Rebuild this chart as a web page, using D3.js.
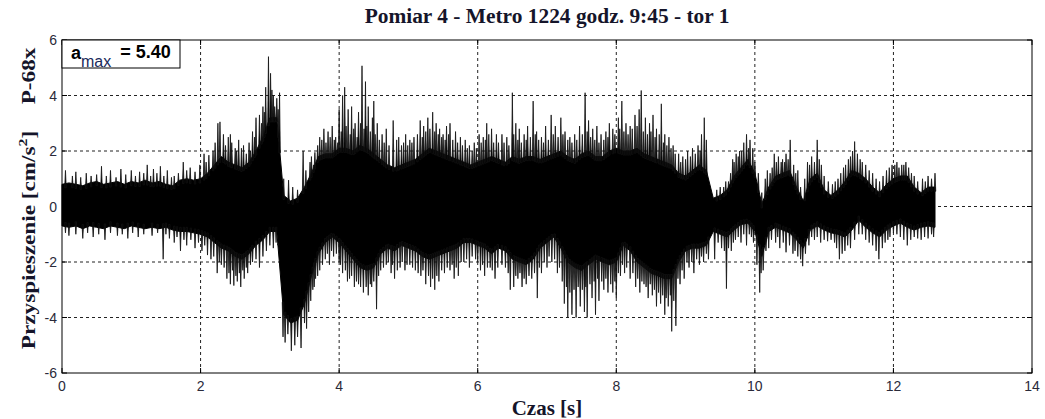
<!DOCTYPE html>
<html lang="pl">
<head>
    <meta charset="UTF-8">
    <title>Pomiar 4 - Metro 1224</title>
    <script src="https://cdn.jsdelivr.net/npm/d3@7"></script>
    <style>
        body { margin: 0; background: #fff; }
        .grid line { stroke: #222; stroke-dasharray: 3,3; stroke-width: 1; }
        .tick-label { font-family: 'Liberation Sans Narrow', 'Liberation Sans', Arial, sans-serif; font-size: 14px; fill: #2a2a3a; }
        .serif-bold { font-family: 'Liberation Serif', 'Times New Roman', serif; font-weight: bold; fill: #15152a; }
    </style>
</head>
<body>
<script>
    // canvas size
    const width = 1045;
    const height = 419;
    const margin = { top: 40, right: 13, bottom: 46, left: 62 };

    const title = 'Pomiar 4 - Metro 1224 godz. 9:45 - tor 1';
    const xTicks = [0, 2, 4, 6, 8, 10, 12, 14];
    const yTicks = [-6, -4, -2, 0, 2, 4, 6];
    const aMax = '5.40';

    // solid band of the record, read every 0.1 s (t = index * 0.1)
    const step = 0.1;
    const coreHi = [
        0.8, 0.85, 0.8, 0.75, 0.85, 0.9, 0.8, 0.85, 0.9, 0.8,
        0.9, 0.85, 0.95, 0.85, 0.9, 0.8, 0.75, 0.95, 1.0, 0.95,
        1.0, 1.2, 1.5, 1.8, 1.6, 1.5, 1.4, 1.6, 2.0, 2.5,
        3.2, 3.2, 0.4, 0.2, 0.3, 0.7, 1.2, 1.8, 1.9, 1.9,
        2.1, 2.1, 2.0, 2.2, 2.1, 1.9, 1.7, 1.5, 1.4, 1.5,
        1.6, 1.7, 1.9, 2.1, 2.0, 1.9, 1.8, 1.7, 1.6, 1.5,
        1.6, 1.7, 1.8, 1.7, 1.6, 1.8, 1.7, 1.8, 1.8, 1.7,
        1.8, 1.9, 2.0, 1.8, 1.7, 1.9, 2.0, 1.8, 1.8, 2.0,
        2.1, 2.0, 2.0, 2.1, 1.9, 1.8, 1.7, 1.6, 1.5, 1.2,
        1.1, 1.3, 1.5, 1.3, 0.3, 0.4, 0.6, 1.1, 1.4, 1.7,
        1.2, 0.1, 0.7, 1.1, 1.2, 1.3, 0.7, 0.2, 1.0, 1.2,
        0.6, 0.4, 0.6, 0.9, 1.3, 1.2, 1.0, 0.7, 0.5, 0.8,
        1.0, 1.1, 1.1, 0.7, 0.5, 0.7, 0.7
    ];
    const coreLo = [
        -0.7, -0.75, -0.7, -0.8, -0.7, -0.75, -0.8, -0.7, -0.75, -0.8,
        -0.7, -0.75, -0.8, -0.75, -0.8, -0.75, -0.85, -0.9, -0.9, -0.95,
        -1.0, -1.1, -1.3, -1.5, -1.6, -1.8, -1.9, -1.7, -1.4, -1.2,
        -0.9, -0.9, -3.9, -4.2, -4.1, -3.5, -2.5, -1.7, -1.3, -1.1,
        -1.3, -1.6, -1.9, -2.2, -2.3, -2.2, -1.7, -1.5, -1.6, -1.4,
        -1.5, -1.6, -1.8, -1.9, -1.8, -1.7, -1.6, -1.5, -1.3, -1.3,
        -1.4, -1.5, -1.7, -1.5, -1.6, -1.9, -2.0, -2.1, -1.9, -1.5,
        -1.3, -1.1, -1.5, -2.0, -2.2, -2.3, -2.1, -1.9, -2.0, -2.1,
        -2.0, -1.4, -1.6, -2.0, -2.2, -2.4, -2.5, -2.6, -2.6, -2.0,
        -1.6, -1.5, -1.5, -1.4, -0.9, -1.0, -1.1, -0.85, -0.65, -0.6,
        -0.9, -1.8, -0.9, -0.75, -0.85, -0.95, -1.2, -1.5, -0.85, -0.7,
        -0.85, -0.95, -1.0, -1.1, -0.85, -0.5, -0.75, -0.95, -1.1, -0.85,
        -0.7, -0.6, -0.75, -0.85, -0.75, -0.7, -0.75
    ];

    // peaks standing out of the band: [time s, value cm/s2]
    const spikesUp = [
        [0.05, 1.3], [0.15, 1.1], [0.2, 1.25], [0.27, 1.05], [0.35, 1.2], [0.42, 1.1], [0.5, 1.15],
        [0.57, 1.45], [0.64, 1.1], [0.7, 1.3], [0.78, 1.05], [0.85, 1.35], [0.92, 1.15], [1.0, 1.3],
        [1.06, 1.1], [1.12, 1.25], [1.18, 1.2], [1.23, 1.5], [1.28, 1.1], [1.32, 1.35], [1.37, 1.2],
        [1.42, 1.45], [1.47, 1.1], [1.52, 1.3], [1.58, 1.05], [1.62, 1.1], [1.68, 1.2], [1.75, 1.6],
        [1.8, 1.3], [1.85, 1.4], [1.92, 1.25], [1.99, 1.5],
        [2.05, 1.9], [2.08, 1.6], [2.12, 1.85], [2.18, 2.0], [2.21, 2.3], [2.25, 3.0], [2.28, 3.05],
        [2.33, 2.6], [2.36, 2.2], [2.4, 2.5], [2.43, 2.6], [2.45, 2.3], [2.5, 2.1], [2.52, 2.0],
        [2.55, 2.4], [2.59, 2.1], [2.62, 2.2], [2.66, 1.9], [2.7, 2.3], [2.72, 2.0], [2.75, 2.7],
        [2.78, 2.5], [2.8, 3.2], [2.85, 3.3], [2.88, 3.0], [2.9, 3.6], [2.92, 3.4], [2.94, 4.3],
        [2.98, 5.4], [3.01, 4.8], [3.03, 4.2], [3.05, 4.0], [3.07, 3.6], [3.1, 3.9], [3.12, 3.5],
        [3.14, 4.1],
        [3.2, 1.0], [3.27, 0.95], [3.33, 0.7], [3.4, 0.6], [3.48, 2.0], [3.52, 1.3], [3.58, 1.6],
        [3.6, 1.8], [3.63, 1.5], [3.65, 1.95], [3.69, 2.2], [3.72, 2.5], [3.75, 2.4], [3.78, 2.8],
        [3.81, 2.3], [3.84, 2.7], [3.87, 2.5], [3.9, 2.9], [3.93, 2.4], [3.95, 2.5], [3.98, 2.3],
        [4.0, 3.5], [4.03, 2.7], [4.05, 4.0], [4.08, 4.3], [4.1, 2.9], [4.13, 3.5], [4.16, 2.6],
        [4.18, 3.6], [4.21, 2.8], [4.23, 3.0], [4.26, 2.5], [4.28, 3.4], [4.31, 3.0], [4.33, 5.07],
        [4.36, 2.8], [4.38, 4.5], [4.4, 2.9], [4.42, 3.6], [4.45, 2.7], [4.48, 3.2], [4.5, 3.8],
        [4.52, 2.6], [4.55, 3.0], [4.58, 2.4], [4.62, 2.6], [4.65, 2.3], [4.68, 2.8], [4.72, 2.2],
        [4.78, 3.1], [4.83, 2.4], [4.86, 2.5], [4.9, 2.2], [4.93, 2.3], [4.96, 2.6], [4.99, 2.2],
        [5.02, 2.4], [5.05, 2.3], [5.08, 2.5], [5.13, 2.6], [5.17, 3.1], [5.2, 2.5], [5.22, 2.9],
        [5.25, 2.7], [5.28, 3.2], [5.31, 2.8], [5.35, 3.4], [5.38, 2.7], [5.4, 3.0], [5.43, 2.6],
        [5.45, 2.8], [5.48, 2.5], [5.5, 2.6], [5.53, 2.4], [5.55, 2.9], [5.58, 2.6], [5.6, 3.0],
        [5.64, 2.4], [5.68, 2.7], [5.71, 2.3], [5.75, 2.5], [5.78, 2.2], [5.82, 2.4], [5.85, 2.1],
        [5.88, 2.2], [5.92, 2.0], [5.95, 2.3], [5.98, 2.1], [6.02, 2.6], [6.05, 2.3], [6.08, 2.5],
        [6.11, 2.4], [6.13, 3.0], [6.16, 2.6], [6.2, 2.8], [6.23, 2.3], [6.27, 2.6], [6.3, 2.3],
        [6.35, 2.6], [6.38, 2.3], [6.42, 2.5], [6.45, 2.2], [6.5, 4.1], [6.52, 2.6], [6.55, 3.0],
        [6.58, 2.4], [6.6, 2.8], [6.63, 2.3], [6.67, 2.6], [6.7, 2.4], [6.72, 2.9], [6.76, 2.5],
        [6.8, 3.8], [6.83, 2.6], [6.85, 2.7], [6.88, 2.4], [6.92, 2.5], [6.95, 2.3], [6.98, 2.9],
        [7.02, 2.4], [7.06, 3.3], [7.09, 2.6], [7.12, 2.9], [7.16, 2.5], [7.2, 3.2], [7.23, 2.6],
        [7.26, 2.7], [7.3, 2.4], [7.33, 2.5], [7.36, 2.3], [7.4, 2.6], [7.43, 2.4], [7.47, 2.9],
        [7.51, 2.6], [7.55, 4.1], [7.58, 2.7], [7.6, 3.1], [7.63, 2.5], [7.66, 2.8], [7.69, 2.4],
        [7.72, 2.9], [7.75, 2.3], [7.78, 2.6], [7.82, 2.4], [7.85, 2.7], [7.88, 2.5], [7.9, 3.0],
        [7.95, 2.8], [7.98, 2.6], [8.03, 3.2], [8.05, 2.8], [8.08, 3.8], [8.11, 2.7], [8.14, 3.0],
        [8.17, 2.6], [8.2, 2.9], [8.23, 2.8], [8.27, 3.3], [8.3, 2.9], [8.33, 3.5], [8.36, 4.18],
        [8.39, 2.7], [8.42, 3.2], [8.45, 2.6], [8.48, 3.0], [8.5, 2.7], [8.53, 3.3], [8.56, 2.5],
        [8.58, 2.8], [8.62, 2.6], [8.65, 3.7], [8.68, 2.3], [8.7, 2.6], [8.73, 2.2], [8.76, 2.5],
        [8.79, 2.1], [8.82, 2.2], [8.85, 1.9], [8.9, 1.9], [8.93, 1.6], [8.96, 1.8], [9.0, 1.7],
        [9.03, 2.0], [9.07, 1.8], [9.1, 2.1], [9.14, 1.9], [9.18, 2.2], [9.21, 2.0], [9.23, 2.6],
        [9.27, 3.2], [9.3, 2.4],
        [9.45, 0.6], [9.5, 0.7], [9.55, 0.7], [9.58, 0.9], [9.62, 0.9], [9.65, 1.2], [9.68, 1.7],
        [9.7, 1.6], [9.73, 1.9], [9.76, 1.8], [9.78, 2.0], [9.81, 2.0], [9.84, 2.3], [9.88, 2.6],
        [9.91, 2.1], [9.93, 2.4], [9.97, 2.1], [10.0, 1.6], [10.05, 1.2], [10.1, 0.5], [10.15, 1.0],
        [10.18, 1.3], [10.22, 1.2], [10.25, 1.4], [10.28, 1.9], [10.31, 1.6], [10.34, 1.8],
        [10.38, 1.6], [10.4, 1.7], [10.43, 1.6], [10.45, 1.9], [10.48, 1.7], [10.51, 2.4],
        [10.56, 1.5], [10.59, 1.2], [10.62, 1.3], [10.66, 0.7], [10.72, 1.0], [10.76, 1.6],
        [10.79, 1.5], [10.82, 1.8], [10.86, 1.6], [10.9, 2.4], [10.93, 1.7], [10.96, 1.5],
        [11.0, 1.1], [11.06, 0.9], [11.12, 0.8], [11.16, 0.9], [11.2, 1.0], [11.24, 1.2],
        [11.28, 1.4], [11.31, 1.5], [11.35, 1.7], [11.38, 1.8], [11.41, 2.0], [11.44, 2.34],
        [11.48, 1.9], [11.52, 1.7], [11.55, 1.6], [11.6, 1.5], [11.65, 1.3], [11.7, 1.2],
        [11.75, 1.0], [11.8, 0.9], [11.85, 1.1], [11.9, 1.3], [11.94, 1.4], [11.98, 1.5],
        [12.02, 1.5], [12.05, 1.6], [12.08, 1.4], [12.12, 1.5], [12.15, 1.5], [12.18, 1.6],
        [12.22, 1.4], [12.26, 1.2], [12.3, 1.1], [12.35, 0.9], [12.42, 1.0], [12.46, 0.9],
        [12.5, 1.1], [12.55, 1.0], [12.6, 1.2]
    ];
    const spikesDown = [
        [0.05, -0.95], [0.1, -1.05], [0.2, -1.0], [0.3, -1.15], [0.37, -0.95], [0.45, -1.1],
        [0.53, -1.0], [0.62, -1.2], [0.7, -0.95], [0.8, -1.05], [0.87, -1.0], [0.95, -1.15],
        [1.02, -0.95], [1.1, -1.1], [1.18, -1.0], [1.3, -1.05], [1.38, -0.95], [1.46, -1.9],
        [1.5, -1.0], [1.55, -1.15], [1.62, -1.3], [1.66, -1.1], [1.71, -1.6], [1.76, -1.2],
        [1.8, -1.4], [1.86, -1.2], [1.92, -1.5], [1.97, -1.3],
        [2.02, -1.6], [2.06, -1.4], [2.1, -1.75], [2.15, -1.9], [2.19, -1.8], [2.24, -2.4],
        [2.27, -2.0], [2.3, -2.1], [2.34, -2.2], [2.38, -2.6], [2.41, -2.4], [2.43, -2.8],
        [2.46, -2.3], [2.48, -2.85], [2.51, -2.5], [2.53, -2.7], [2.56, -2.4], [2.58, -2.9],
        [2.61, -2.3], [2.63, -2.6], [2.66, -2.2], [2.68, -2.4], [2.72, -2.1], [2.75, -2.0],
        [2.8, -1.9], [2.85, -2.2], [2.9, -1.8], [2.95, -1.6], [3.0, -1.4], [3.05, -1.5],
        [3.09, -1.3], [3.12, -1.4],
        [3.19, -4.7], [3.22, -4.9], [3.26, -4.6], [3.31, -5.2], [3.36, -5.0], [3.4, -4.7],
        [3.45, -5.1], [3.5, -4.2], [3.53, -4.4], [3.56, -3.8], [3.59, -3.4], [3.62, -3.0],
        [3.64, -2.9], [3.66, -2.6], [3.69, -2.5], [3.72, -2.3], [3.76, -2.1], [3.8, -1.9],
        [3.83, -1.7], [3.86, -2.1], [3.89, -1.6], [3.92, -1.8], [3.96, -1.7], [4.0, -2.0],
        [4.02, -2.1], [4.05, -2.4], [4.09, -2.3], [4.12, -2.7], [4.15, -2.6], [4.18, -2.5],
        [4.22, -2.9], [4.25, -2.7], [4.28, -2.8], [4.31, -2.9], [4.35, -3.1], [4.39, -2.9],
        [4.42, -3.2], [4.45, -2.8], [4.47, -2.9], [4.5, -2.7], [4.54, -3.7], [4.57, -2.5],
        [4.6, -2.3], [4.64, -2.2], [4.68, -2.1], [4.71, -2.0],
        [4.75, -2.4], [4.77, -2.1], [4.8, -2.6], [4.84, -2.3], [4.88, -2.2], [4.91, -2.0],
        [4.95, -2.3], [4.98, -2.1], [5.02, -2.1], [5.06, -2.2], [5.1, -2.3], [5.14, -2.4],
        [5.18, -2.5], [5.21, -2.3], [5.25, -2.8], [5.29, -2.5], [5.32, -2.9], [5.35, -2.6],
        [5.38, -3.0], [5.41, -2.5], [5.44, -2.7], [5.48, -2.3], [5.52, -2.4], [5.56, -2.2],
        [5.6, -2.3], [5.63, -2.1], [5.66, -2.6], [5.69, -2.2], [5.72, -2.5], [5.76, -2.0],
        [5.8, -2.0], [5.84, -1.9], [5.88, -2.2], [5.92, -1.8], [5.97, -1.9], [6.0, -2.0],
        [6.04, -2.3], [6.07, -2.1], [6.1, -2.5], [6.14, -2.2], [6.18, -2.2], [6.21, -2.3],
        [6.25, -2.6], [6.29, -2.2],
        [6.35, -2.1], [6.4, -2.2], [6.44, -2.4], [6.47, -3.0], [6.52, -2.9], [6.55, -2.5],
        [6.58, -2.6], [6.61, -2.4], [6.64, -2.9], [6.67, -2.6], [6.7, -2.8], [6.74, -2.5],
        [6.78, -2.6], [6.82, -2.4], [6.86, -3.3], [6.89, -2.2], [6.92, -2.4], [6.96, -2.0],
        [7.0, -2.2], [7.03, -1.8], [7.07, -2.0], [7.11, -1.9], [7.15, -2.4], [7.18, -2.2],
        [7.22, -2.7], [7.25, -3.5], [7.28, -2.9], [7.3, -4.0], [7.33, -3.1], [7.36, -3.9],
        [7.39, -3.0], [7.42, -4.0], [7.45, -2.9], [7.48, -3.6], [7.51, -3.0], [7.54, -3.8],
        [7.56, -2.9], [7.58, -4.0], [7.62, -2.8], [7.65, -3.3], [7.68, -2.7], [7.7, -3.9],
        [7.73, -2.6], [7.75, -3.4], [7.79, -2.7], [7.82, -3.0], [7.85, -2.6], [7.88, -3.1],
        [7.92, -2.8], [7.95, -3.1], [7.98, -2.7], [8.0, -3.3], [8.03, -2.4], [8.06, -2.5],
        [8.09, -2.1], [8.12, -2.4], [8.15, -2.2], [8.2, -2.6], [8.24, -2.4], [8.28, -2.9],
        [8.31, -2.6], [8.34, -3.1], [8.37, -2.7], [8.4, -2.8], [8.43, -2.9], [8.46, -3.3],
        [8.49, -2.8], [8.52, -3.2], [8.55, -3.0], [8.58, -3.6], [8.61, -3.1], [8.64, -3.5],
        [8.67, -3.2], [8.7, -3.9], [8.72, -3.3], [8.75, -3.6], [8.78, -3.2], [8.8, -4.5],
        [8.83, -3.4], [8.86, -4.3], [8.89, -2.6], [8.92, -2.8], [8.95, -2.3], [8.98, -2.6],
        [9.02, -2.0], [9.05, -2.2], [9.09, -2.0], [9.12, -2.4], [9.16, -1.9], [9.2, -2.1],
        [9.23, -1.8], [9.26, -2.0], [9.3, -1.7], [9.33, -1.9], [9.42, -1.9],
        [9.47, -1.3], [9.52, -1.5], [9.56, -1.6], [9.59, -2.96], [9.62, -1.5], [9.66, -1.6],
        [9.69, -1.3], [9.72, -1.2], [9.76, -1.1], [9.8, -1.3], [9.84, -1.0], [9.88, -1.4],
        [9.92, -1.0], [9.95, -1.1], [9.98, -1.3], [10.03, -2.1], [10.07, -3.1], [10.09, -2.4],
        [10.12, -2.3], [10.16, -1.6], [10.2, -1.5], [10.24, -1.2], [10.3, -1.3], [10.33, -1.1],
        [10.36, -1.5], [10.41, -1.3], [10.45, -1.65], [10.5, -1.4], [10.55, -1.7], [10.58, -1.6],
        [10.62, -1.8], [10.66, -1.9], [10.69, -2.15], [10.73, -1.7], [10.78, -1.4], [10.82, -1.1],
        [10.86, -1.2], [10.9, -1.1], [10.95, -1.3], [11.0, -1.2], [11.05, -1.25], [11.1, -1.2],
        [11.15, -1.3], [11.18, -1.5], [11.22, -1.9], [11.26, -1.7], [11.3, -1.6], [11.34, -1.4],
        [11.38, -1.5], [11.44, -1.2], [11.5, -1.0], [11.55, -1.0], [11.6, -1.2], [11.65, -1.3],
        [11.7, -1.4], [11.75, -1.6], [11.79, -1.9], [11.84, -1.5], [11.88, -1.3], [11.92, -1.2],
        [11.95, -1.1], [12.0, -0.95], [12.05, -1.0], [12.1, -1.1], [12.15, -1.2], [12.2, -1.4],
        [12.25, -1.2], [12.3, -1.1], [12.35, -1.15], [12.4, -1.2], [12.45, -1.1], [12.5, -1.15],
        [12.55, -1.0], [12.58, -1.1]
    ];

    let svg = d3.select('body')
        .append('svg')
        .attr('width', width)
        .attr('height', height);

    const x = d3.scaleLinear().domain([0, 14]).range([margin.left, width - margin.right]);
    const y = d3.scaleLinear().domain([-6, 6]).range([height - margin.bottom, margin.top]);

    // grid
    let grid = svg.append('g').attr('class', 'grid');
    grid.selectAll('line.gx')
        .data(xTicks.slice(1, -1))
        .enter().append('line')
        .attr('x1', d => x(d)).attr('x2', d => x(d))
        .attr('y1', y(6)).attr('y2', y(-6));
    grid.selectAll('line.gy')
        .data(yTicks.slice(1, -1))
        .enter().append('line')
        .attr('class', 'gy')
        .attr('x1', x(0)).attr('x2', x(14))
        .attr('y1', d => y(d)).attr('y2', d => y(d));

    // signal band
    const band = coreHi.map((h, i) => ({ t: i * step, hi: h, lo: coreLo[i] }));
    const area = d3.area()
        .x(d => x(d.t))
        .y0(d => y(d.lo))
        .y1(d => y(d.hi));
    svg.append('path')
        .datum(band)
        .attr('d', area)
        .attr('fill', '#000')
        .attr('stroke', '#000')
        .attr('stroke-width', 1);

    // band edge at time t (linear between the 0.1 s readings)
    function edgeAt (arr, t) {
        let i = Math.min(Math.floor(t / step), arr.length - 2);
        let f = t / step - i;
        return arr[i] * (1 - f) + arr[i + 1] * f;
    }

    // spikes drawn as thin peaks leaving the band
    const w = 0.011;
    function spikePath (d, arr, inward) {
        let base = edgeAt(arr, d[0]) + inward;
        return 'M' + x(d[0] - w) + ',' + y(base) +
            'L' + x(d[0]) + ',' + y(d[1]) +
            'L' + x(d[0] + w) + ',' + y(base) + 'Z';
    }
    let peaks = svg.append('g')
        .attr('fill', '#000')
        .attr('stroke', '#111')
        .attr('stroke-width', 0.8)
        .attr('stroke-linejoin', 'miter');
    peaks.selectAll('path.up')
        .data(spikesUp)
        .enter().append('path')
        .attr('d', d => spikePath(d, coreHi, -0.15));
    peaks.selectAll('path.down')
        .data(spikesDown)
        .enter().append('path')
        .attr('d', d => spikePath(d, coreLo, 0.15));

    // frame
    svg.append('rect')
        .attr('x', x(0)).attr('y', y(6))
        .attr('width', x(14) - x(0)).attr('height', y(-6) - y(6))
        .attr('fill', 'none').attr('stroke', '#000').attr('stroke-width', 1);

    // ticks (inside, like matlab)
    let ticks = svg.append('g').attr('stroke', '#000');
    xTicks.forEach(d => {
        ticks.append('line').attr('x1', x(d)).attr('x2', x(d)).attr('y1', y(-6)).attr('y2', y(-6) - 5);
        ticks.append('line').attr('x1', x(d)).attr('x2', x(d)).attr('y1', y(6)).attr('y2', y(6) + 5);
    });
    yTicks.forEach(d => {
        ticks.append('line').attr('x1', x(0)).attr('x2', x(0) + 5).attr('y1', y(d)).attr('y2', y(d));
        ticks.append('line').attr('x1', x(14)).attr('x2', x(14) - 5).attr('y1', y(d)).attr('y2', y(d));
    });

    svg.append('g').selectAll('text')
        .data(xTicks)
        .enter().append('text')
        .attr('class', 'tick-label')
        .attr('x', d => x(d))
        .attr('y', y(-6) + 18)
        .attr('text-anchor', 'middle')
        .text(d => d);
    svg.append('g').selectAll('text')
        .data(yTicks)
        .enter().append('text')
        .attr('class', 'tick-label')
        .attr('x', x(0) - 5)
        .attr('y', d => y(d) + 5)
        .attr('text-anchor', 'end')
        .text(d => d);

    // a_max box
    svg.append('rect')
        .attr('x', x(0)).attr('y', y(6))
        .attr('width', 118).attr('height', 28)
        .attr('fill', '#fff').attr('stroke', '#000');
    let amax = svg.append('text')
        .attr('x', x(0) + 9).attr('y', y(6) + 19)
        .style('font-family', "'Liberation Sans', Arial, sans-serif")
        .style('fill', '#000');
    amax.append('tspan').text('a').style('font-weight', 'bold').style('font-size', '18px');
    amax.append('tspan').text('max').attr('dy', 8).style('font-size', '16px').style('fill', '#1a2a5a');
    amax.append('tspan').text(' = ' + aMax).attr('dy', -9).attr('dx', 4).style('font-weight', 'bold').style('font-size', '18px');

    // titles
    svg.append('text')
        .attr('class', 'serif-bold')
        .attr('x', (x(0) + x(14)) / 2)
        .attr('y', 23)
        .attr('text-anchor', 'middle')
        .style('font-size', '21.4px')
        .text(title);
    svg.append('text')
        .attr('class', 'serif-bold')
        .attr('x', (x(0) + x(14)) / 2)
        .attr('y', 415)
        .attr('text-anchor', 'middle')
        .style('font-size', '21px')
        .text('Czas [s]');

    // y label is stretched along its length in the original
    let ylab = svg.append('text')
        .attr('class', 'serif-bold')
        .attr('transform', 'translate(35,' + 240 + ') rotate(-90) scale(1.22,1)')
        .attr('text-anchor', 'middle')
        .style('font-size', '19px');
    ylab.append('tspan').text('Przyspieszenie [cm/s');
    ylab.append('tspan').text('2').attr('dy', -8).style('font-size', '13px');
    ylab.append('tspan').text(']').attr('dy', 8);
    svg.append('text')
        .attr('class', 'serif-bold')
        .attr('transform', 'translate(35,' + 76 + ') rotate(-90) scale(1.22,1)')
        .attr('text-anchor', 'middle')
        .style('font-size', '19px')
        .text('P-68x');
</script>
</body>
</html>
